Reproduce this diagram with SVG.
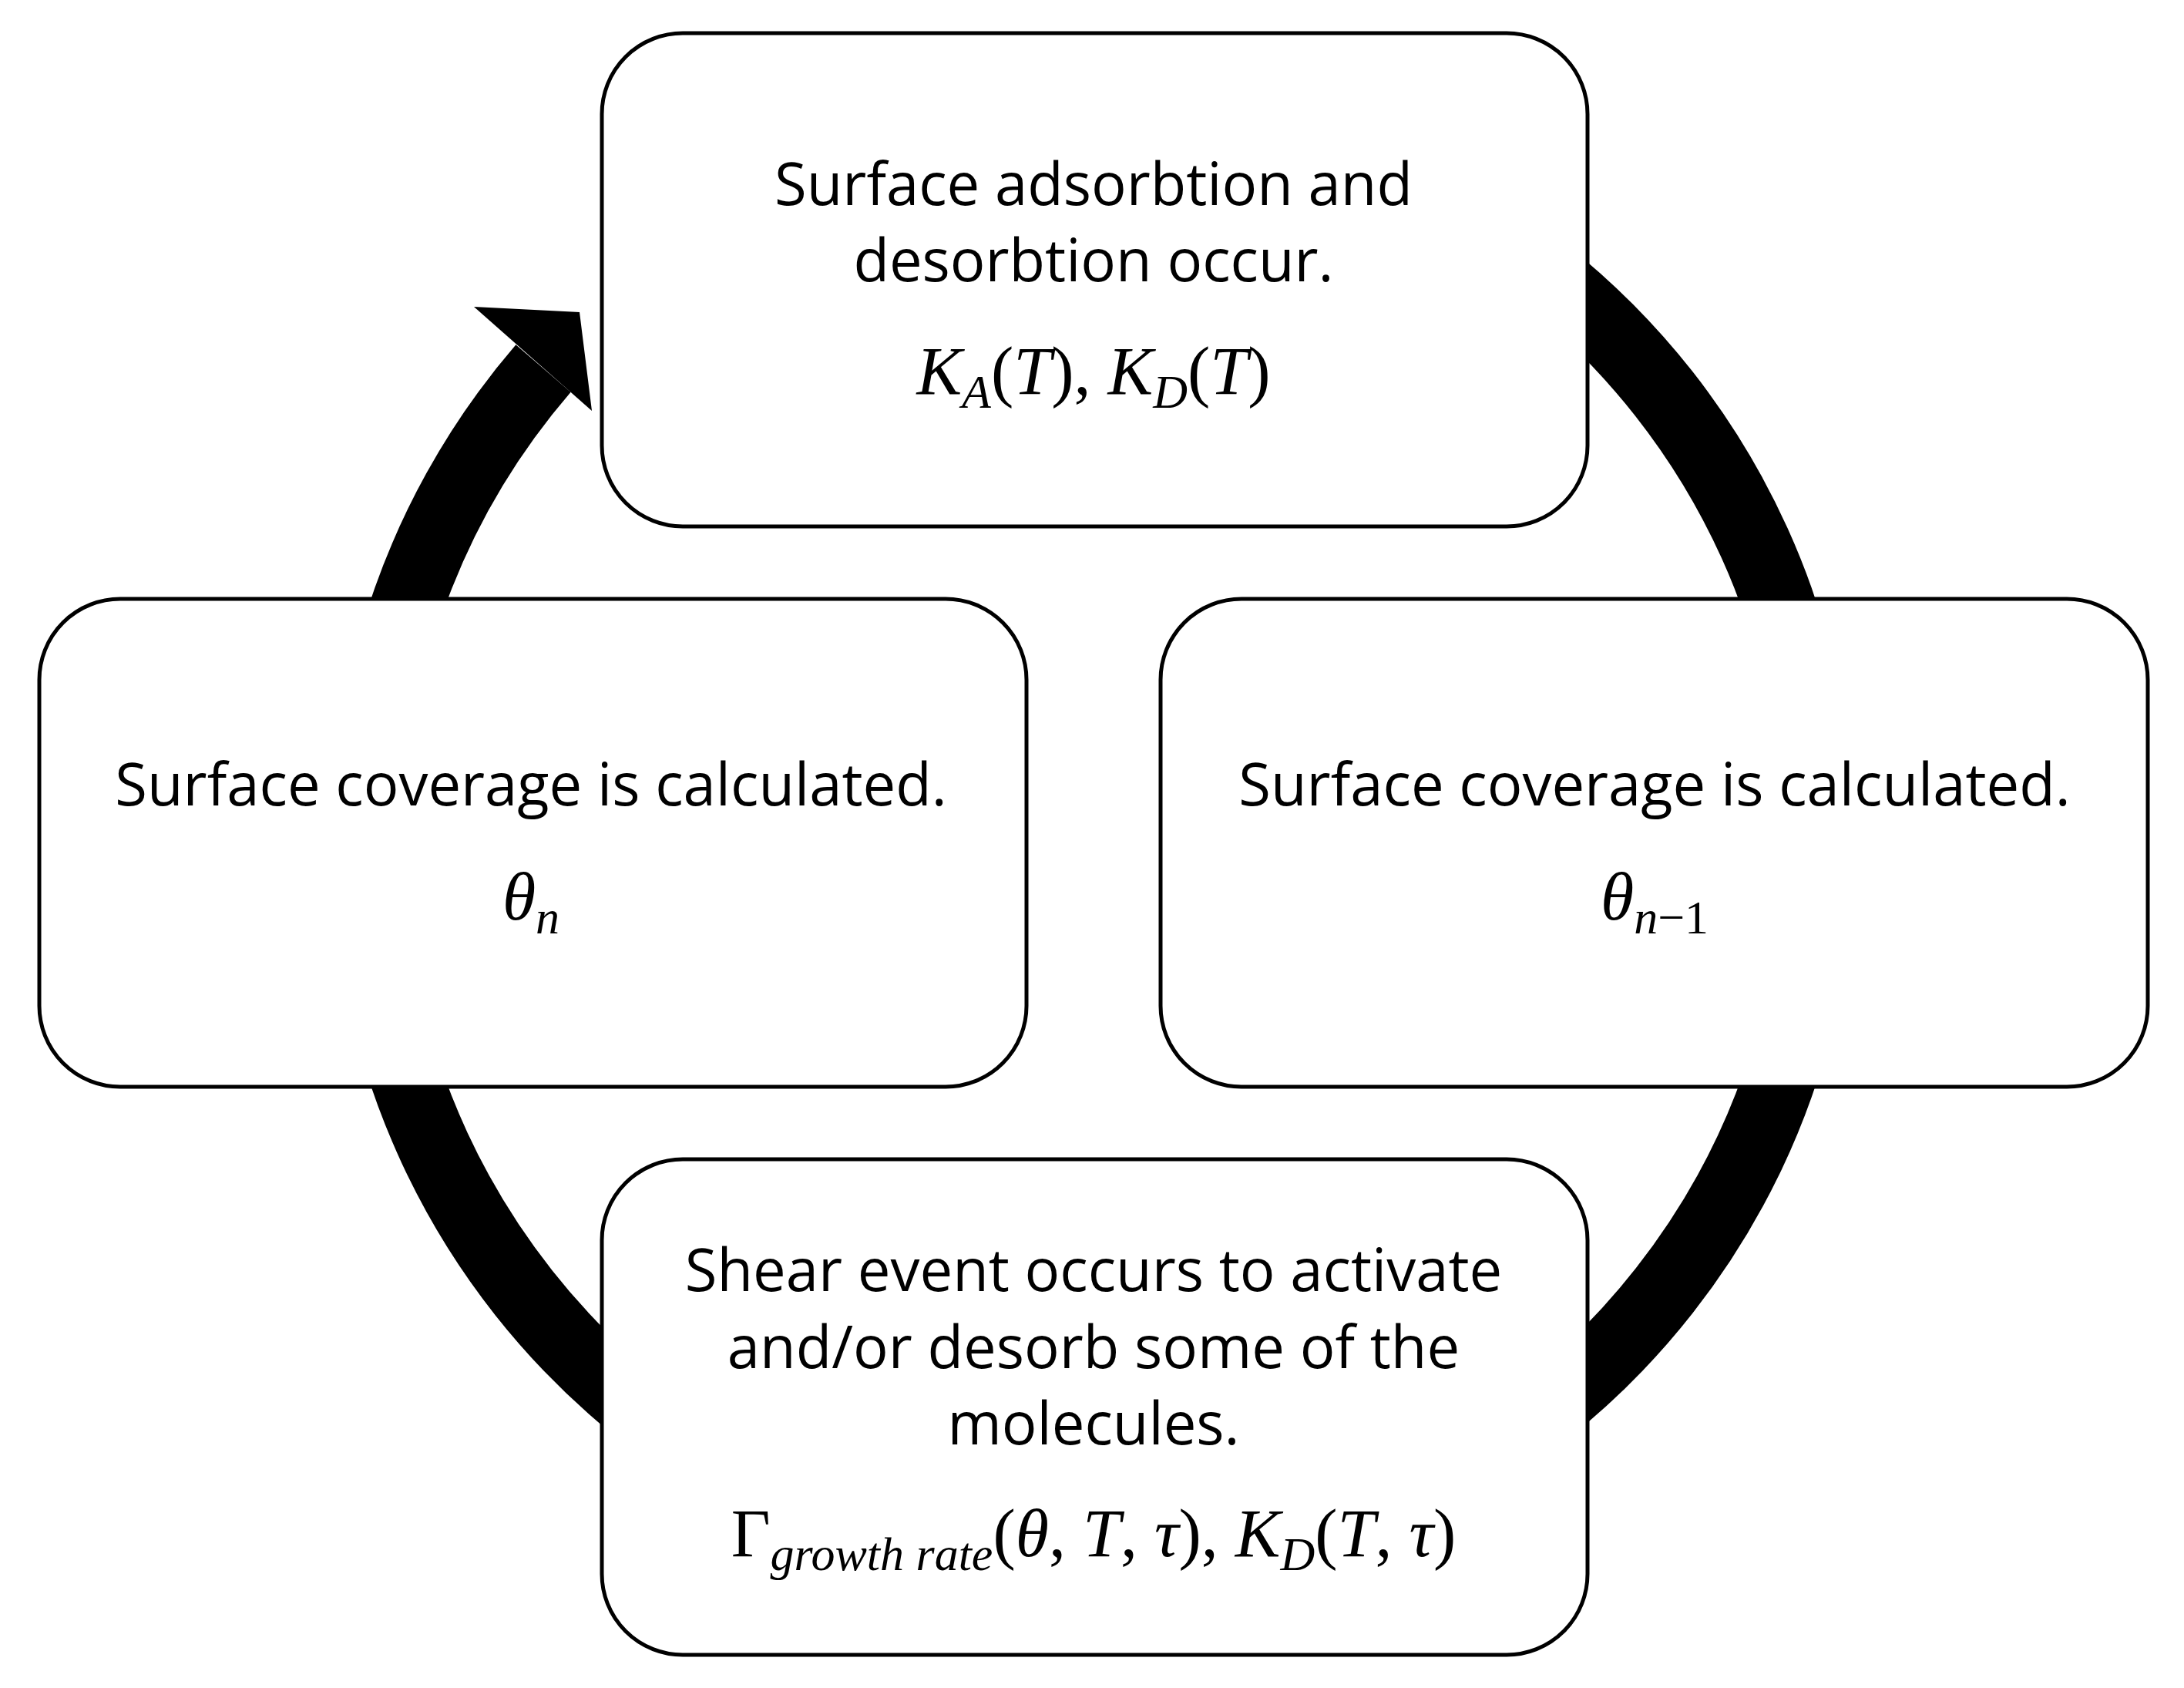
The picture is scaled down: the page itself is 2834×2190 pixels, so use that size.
<svg xmlns="http://www.w3.org/2000/svg" width="2834" height="2190" viewBox="0 0 2834 2190">
<style>
.box{fill:#fff;stroke:#000;stroke-width:5}
.t{font-family:"Open Sans","Liberation Sans",sans-serif;font-size:76px;text-anchor:middle;fill:#000}
.m{font-family:"Liberation Serif",serif;font-style:italic;font-size:88px;text-anchor:middle;fill:#000}
.s{font-size:62px}
.u{font-style:normal}
</style>
<rect width="2834" height="2190" fill="#fff"/>
<g id="connectors">
<path d="M705 478 A942 942 0 1 0 1419 151" fill="none" stroke="#000" stroke-width="94"/>
<polygon points="615,398 752,405 768,533" fill="#000"/>
</g>
<g id="top"><rect class="box" x="781" y="43" width="1279" height="640" rx="105"/>
<text class="t" x="1419" y="266">Surface adsorbtion and</text>
<text class="t" x="1419" y="365">desorbtion occur.</text>
<text class="m" x="1419" y="511">K<tspan class="s" dy="18">A</tspan><tspan dy="-18" class="u">(</tspan>T<tspan class="u">), </tspan>K<tspan class="s" dy="18">D</tspan><tspan dy="-18" class="u">(</tspan>T<tspan class="u">)</tspan></text></g>
<g id="left"><rect class="box" x="51" y="777" width="1281" height="633" rx="105"/>
<text class="t" x="689" y="1045">Surface coverage is calculated.</text>
<text class="m" x="689" y="1193">θ<tspan class="s" dy="18">n</tspan></text></g>
<g id="right"><rect class="box" x="1506" y="777" width="1281" height="633" rx="105"/>
<text class="t" x="2147" y="1045">Surface coverage is calculated.</text>
<text class="m" x="2147" y="1193">θ<tspan class="s" dy="18">n<tspan class="u">−1</tspan></tspan></text></g>
<g id="bottom"><rect class="box" x="781" y="1504" width="1279" height="643" rx="105"/>
<text class="t" x="1419" y="1675">Shear event occurs to activate</text>
<text class="t" x="1419" y="1775">and/or desorb some of the</text>
<text class="t" x="1419" y="1874">molecules.</text>
<text class="m" x="1419" y="2019"><tspan class="u">Γ</tspan><tspan class="s" dy="18">growth rate</tspan><tspan dy="-18" class="u">(</tspan>θ<tspan class="u">, </tspan>T<tspan class="u">, </tspan>τ<tspan class="u">), </tspan>K<tspan class="s" dy="18">D</tspan><tspan dy="-18" class="u">(</tspan>T<tspan class="u">, </tspan>τ<tspan class="u">)</tspan></text></g>
</svg>
